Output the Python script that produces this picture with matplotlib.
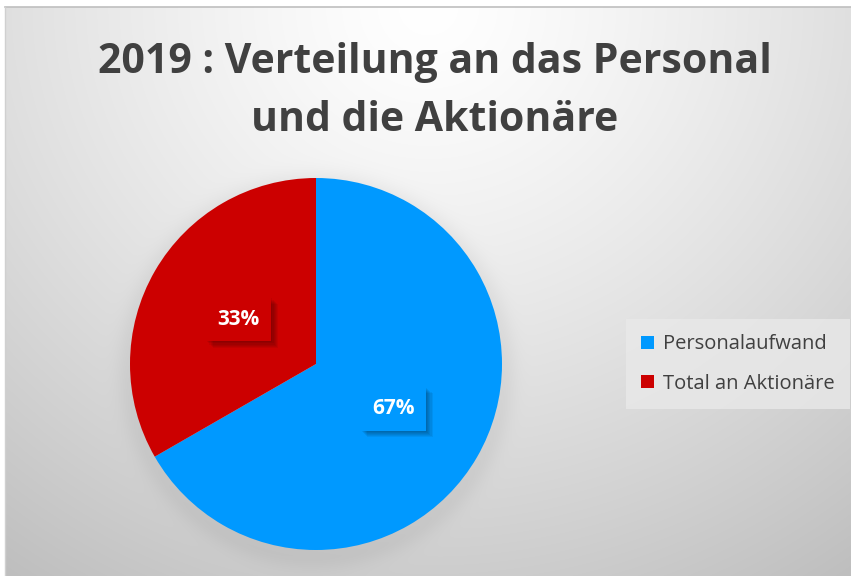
import numpy as np
import matplotlib
matplotlib.use("Agg")
import matplotlib.pyplot as plt
from matplotlib import patheffects as pe
from matplotlib.patches import Patch

categories = ["Personalaufwand", "Total an Aktionäre"]
values = [66.7, 33.3]
colors = ["#0099FF", "#CC0000"]
title_lines = ["2019 : Verteilung an das Personal", "und die Aktionäre"]

W, H = 851, 576
fig = plt.figure(figsize=(W / 100, H / 100), dpi=100)
fig.patch.set_facecolor("white")

# background chart area with radial gradient
x0, y0 = 5, 7  # top-left of chart area in pixels
bw, bh = W - x0, H - y0
bg = fig.add_axes([x0 / W, 0, bw / W, bh / H])
yy, xx = np.mgrid[0:bh, 0:bw]
cx, cy = 0.5 * bw, 0.0
d = np.sqrt(((xx - cx) / (bw * 0.75)) ** 2 + ((yy - cy) / (bh * 1.05)) ** 2)
val = 1.0 - 0.21 * np.clip(d, 0, 1.2) ** 1.3
# pie shadow (soft, mostly below)
pcx, pcy, pr = 316 - x0, 364 - y0 + 6, 186
rd = np.sqrt((xx - pcx) ** 2 + (yy - pcy) ** 2)
sh = np.exp(-np.clip(rd - pr, 0, None) ** 2 / (2 * 10 ** 2))
val = val - 0.045 * sh
img = np.dstack([val, val, val])
bg.imshow(np.clip(img, 0, 1), aspect="auto", extent=(0, bw, bh, 0))
bg.set_xlim(0, bw)
bg.set_ylim(bh, 0)
bg.axis("off")
# border
fig.add_artist(plt.Line2D([x0 / W, 1], [1 - y0 / H, 1 - y0 / H], color="#bfbfbf", lw=1.2))
fig.add_artist(plt.Line2D([x0 / W, x0 / W], [0, 1 - y0 / H], color="#d0d0d0", lw=1.0))

# pie
ccx, ccy, r = 316, 364, 186
ax = fig.add_axes([(ccx - r) / W, (H - ccy - r) / H, 2 * r / W, 2 * r / H])
wedges, texts, autotexts = ax.pie(
    values, colors=colors, startangle=90, counterclock=False, radius=1,
    autopct=lambda p: f"{p:.0f}%", pctdistance=0.48,
    wedgeprops=dict(linewidth=0),
    textprops=dict(color="white", fontsize=15, fontweight="bold", family="Open Sans"),
)
ax.set_xlim(-1, 1)
ax.set_ylim(-1, 1)
ax.set_aspect("auto")
ax.axis("off")
shadow_fx = []
for k in range(6, 0, -1):
    shadow_fx.append(pe.SimplePatchShadow(offset=(k * 0.8, -k * 0.8),
                                          shadow_rgbFace="#000000", alpha=0.06))
shadow_fx.append(pe.Normal())
for t, c in zip(autotexts, colors):
    t.set_bbox(dict(boxstyle="square,pad=0.55", facecolor=c, edgecolor="none"))
    t.get_bbox_patch().set_path_effects(shadow_fx)

for line, base in zip(title_lines, [73, 131]):
    fig.text(435 / W, 1 - base / H, line, ha="center", va="baseline", fontsize=29.5,
             fontweight="bold", color="#404040", family="Open Sans")

handles = [Patch(facecolor=c, edgecolor="none") for c in colors]
leg = fig.legend(handles, categories, loc="center left",
                 bbox_to_anchor=(616 / W, 1 - 364 / H), frameon=True,
                 labelcolor="#404040", handlelength=0.65,
                 handleheight=0.65, handletextpad=0.45, labelspacing=0.95,
                 borderpad=0.75, prop=dict(family="Open Sans", size=14.5))
leg.get_frame().set_facecolor("#e9e9e9")
leg.get_frame().set_alpha(0.8)
leg.get_frame().set_edgecolor("none")
leg.get_frame().set_boxstyle("square", pad=0)

fig.savefig("out.png", dpi=100)
